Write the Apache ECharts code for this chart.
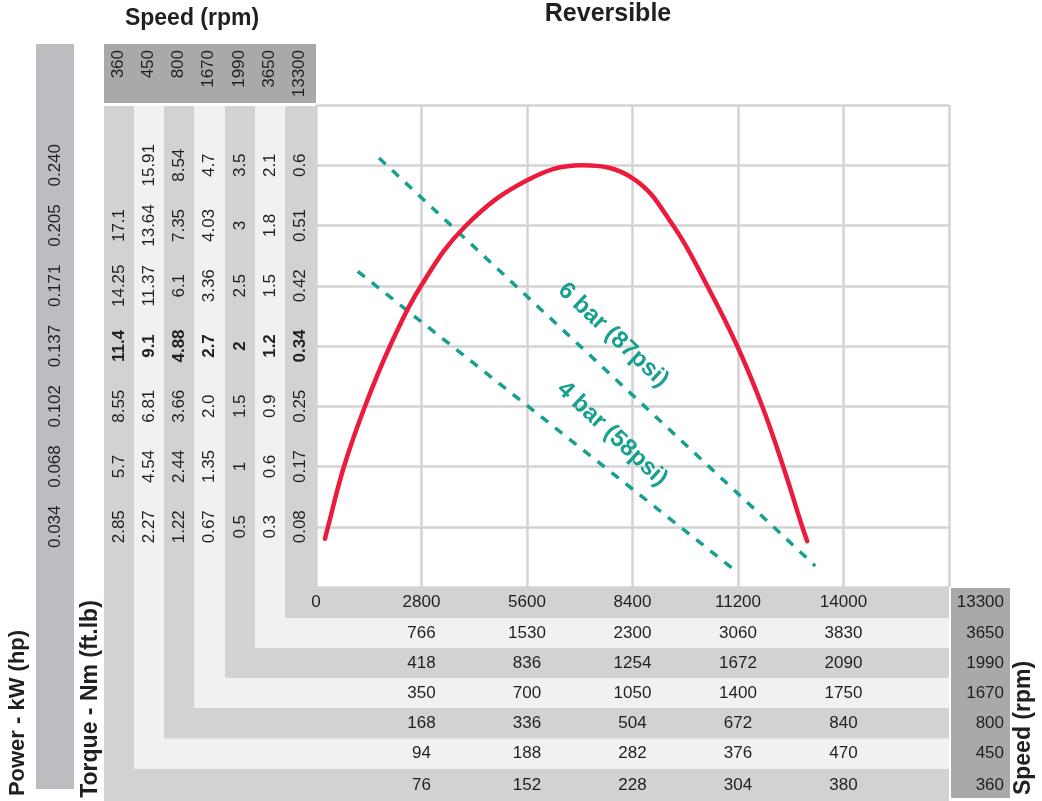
<!DOCTYPE html>
<html><head><meta charset="utf-8">
<script src="https://cdn.jsdelivr.net/npm/echarts@6/dist/echarts.min.js"></script>
<style>html,body{margin:0;padding:0;background:#fff}#c{width:1042px;height:801px}</style>
</head><body><div id="c"></div>
<script>
// ---------------- DATA ----------------
const speedRows = ['13300','3650','1990','1670','800','450','360'];   // rpm scales (innermost first)
// left column tick labels (gridline 1..7 from bottom)
const powerLabels = ['0.034','0.068','0.102','0.137','0.171','0.205','0.240'];
const torque13300 = ['0.08','0.17','0.25','0.34','0.42','0.51','0.6'];
const torque3650  = ['0.3','0.6','0.9','1.2','1.5','1.8','2.1'];
const torque1990  = ['0.5','1','1.5','2','2.5','3','3.5'];
const torque1670  = ['0.67','1.35','2.0','2.7','3.36','4.03','4.7'];
const torque800   = ['1.22','2.44','3.66','4.88','6.1','7.35','8.54'];
const torque450   = ['2.27','4.54','6.81','9.1','11.37','13.64','15.91'];
const torque360   = ['2.85','5.7','8.55','11.4','14.25','17.1',''];
// bottom row tick labels (gridlines 0..6 from left)
const speed13300 = ['0','2800','5600','8400','11200','14000',''];
const speed3650  = ['','766','1530','2300','3060','3830',''];
const speed1990  = ['','418','836','1254','1672','2090',''];
const speed1670  = ['','350','700','1050','1400','1750',''];
const speed800   = ['','168','336','504','672','840',''];
const speed450   = ['','94','188','282','376','470',''];
const speed360   = ['','76','152','228','304','380',''];
// curve (x = rpm on 13300 scale, y = gridline level 0..8)
const curveRpm   = [239, 319, 743, 1301, 1965, 2788, 3983, 5603, 7063, 8417, 9479, 10382, 11179, 11843, 12400, 12905, 13037];
const curveLevel = [0.80, 1.00, 2.00, 3.00, 4.00, 5.00, 6.00, 6.75, 7.00, 6.78, 6.00, 5.00, 4.00, 3.00, 2.00, 1.00, 0.76];
const bar6Rpm = [1673, 13250], bar6Level = [7.12, 0.35];
const bar4Rpm = [1107, 11214], bar4Level = [5.24, 0.23];
const lineLabels = ['6 bar (87psi)', '4 bar (58psi)'];
const lineLabelRpm = [7886, 7860], lineLabelLevel = [4.18, 2.54];

// ---------------- LAYOUT / STYLE ----------------
const GL = 316, GT = 105, GR = 949, GB = 587;
const colEdges = [104, 134, 164, 194.5, 225, 255, 285, 316]; // 360 ... 13300
const rowEdges = [587, 618, 648, 678, 708, 738.5, 769, 801]; // 13300 row ... 360 row
const MID = '#d1d2d4', LIGHT = '#f0f1f3', DARK = '#a8a9ab', POWER = '#bcbdc0';
const TXT = '#231f20', TEAL = '#17a08f', RED = '#ec1b3b', GRID = '#d3d3d5';
const FONT = '"Liberation Sans", Arial, Helvetica, sans-serif';

const torqueCols = [torque13300, torque3650, torque1990, torque1670, torque800, torque450, torque360];
const speedRowLabels = [speed13300, speed3650, speed1990, speed1670, speed800, speed450, speed360];

const gfx = [];
gfx.push({type:'rect', z:-5, shape:{x:36, y:44, width:38, height:745}, style:{fill:POWER}});
gfx.push({type:'rect', z:-5, shape:{x:104, y:44, width:GL-104, height:59}, style:{fill:DARK}});
gfx.push({type:'rect', z:-5, shape:{x:951, y:588, width:59, height:210}, style:{fill:DARK}});
for (let i = 0; i < 7; i++) { // i=0 -> 360 column
  const j = 6 - i;
  const fill = (i % 2 === 0) ? MID : LIGHT;
  gfx.push({type:'rect', z:-5, shape:{x:colEdges[i], y:106, width:colEdges[i+1]-colEdges[i], height:rowEdges[j]-106}, style:{fill}});
  gfx.push({type:'rect', z:-5, shape:{x:colEdges[i], y:rowEdges[j], width:GR-colEdges[i], height:rowEdges[j+1]-rowEdges[j]}, style:{fill}});
}
// header (column speeds) and right side (row speeds)
for (let k = 0; k < 7; k++) {
  const cx = (colEdges[6-k] + colEdges[7-k]) / 2;
  gfx.push({type:'text', x:cx - 1, y:50, rotation:Math.PI/2,
    style:{text:speedRows[k], x:0, y:0, align:'right', verticalAlign:'middle', font:`17px ${FONT}`, fill:TXT}});
  const cy = (rowEdges[k] + rowEdges[k+1]) / 2;
  gfx.push({type:'text', x:1004, y:cy,
    style:{text:speedRows[k], align:'right', verticalAlign:'middle', font:`17px ${FONT}`, fill:TXT}});
}
function vtext(t, x, y, size) {
  return {type:'text', x, y, rotation:Math.PI/2, style:{text:t, x:0, y:0, align:'center', verticalAlign:'middle', font:`bold ${size}px ${FONT}`, fill:TXT}};
}
gfx.push({type:'text', x:608, y:14, style:{text:'Reversible', align:'center', verticalAlign:'middle', font:`bold 25px ${FONT}`, fill:TXT}});
gfx.push({type:'text', x:192, y:19, style:{text:'Speed (rpm)', align:'center', verticalAlign:'middle', font:`bold 23px ${FONT}`, fill:TXT}});
gfx.push(vtext('Power - kW (hp)', 18, 713, 22));
gfx.push(vtext('Torque - Nm (ft.lb)', 91, 699, 23));
gfx.push(vtext('Speed (rpm)', 1024, 728, 23));

const yAxes = [];
for (let k = 0; k < 7; k++) {
  const center = (colEdges[6-k] + colEdges[7-k]) / 2;
  const labels = torqueCols[k];
  yAxes.push({
    type:'value', min:0, max:8, interval:1, position:'left', offset: GL - center,
    axisLine:{show:false}, axisTick:{show:false},
    splitLine: k === 0 ? {show:true, lineStyle:{color:GRID, width:2.5}} : {show:false},
    axisLabel:{margin:0, rotate:90, align:'center', verticalAlign:'middle', fontSize:17, color:TXT, fontFamily:FONT,
      formatter:(v) => { const s = labels[Math.round(v) - 1] || ''; return (Math.round(v) === 4 && s) ? '{b|' + s + '}' : s; },
      rich:{b:{fontWeight:'bold', fontSize:17, color:TXT, fontFamily:FONT}}}
  });
}
yAxes.push({
  type:'value', min:0, max:8, interval:1, position:'left', offset: GL - 55,
  axisLine:{show:false}, axisTick:{show:false}, splitLine:{show:false},
  axisLabel:{margin:0, rotate:90, align:'center', verticalAlign:'middle', fontSize:17, color:TXT, fontFamily:FONT,
    formatter:(v) => powerLabels[Math.round(v) - 1] || ''}
});

const xAxes = [];
for (let j = 0; j < 7; j++) {
  const center = (rowEdges[j] + rowEdges[j+1]) / 2;
  const labels = speedRowLabels[j];
  xAxes.push({
    type:'value', min:0, max:16800, interval:2800, position:'bottom', offset: center - GB,
    axisLine:{show:false}, axisTick:{show:false},
    splitLine: j === 0 ? {show:true, lineStyle:{color:GRID, width:2.5}} : {show:false},
    axisLabel:{margin:0, verticalAlign:'middle', fontSize:17, color:TXT, fontFamily:FONT,
      formatter:(v) => labels[Math.round(v / 2800)] || ''}
  });
}

const zip = (a, b) => a.map((x, i) => [x, b[i]]);
const option = {
  animation:false,
  grid:{left:GL, top:GT, width:GR-GL, height:GB-GT},
  graphic: gfx,
  xAxis: xAxes,
  yAxis: yAxes,
  series:[
    {type:'line', data:zip(bar6Rpm, bar6Level), showSymbol:false, lineStyle:{color:TEAL, width:3.5, type:[9,9]}, z:3},
    {type:'line', data:zip(bar4Rpm, bar4Level), showSymbol:false, lineStyle:{color:TEAL, width:3.5, type:[9,9]}, z:3},
    {type:'line', data:zip(curveRpm, curveLevel), smooth:0.4, showSymbol:false, lineStyle:{color:RED, width:4.5, cap:'round'}, z:4},
    {type:'scatter', symbolSize:1, itemStyle:{color:'transparent', opacity:1}, z:5, silent:true,
      data: lineLabels.map((t, i) => [lineLabelRpm[i], lineLabelLevel[i], t]),
      label:{show:true, position:'inside', rotate:-43, formatter:(p) => p.data[2], color:TEAL, opacity:1, textBorderWidth:0,
        fontWeight:'bold', fontSize:24, fontFamily:FONT}}
  ]
};
const chart = echarts.init(document.getElementById('c'));
chart.setOption(option);
</script></body></html>
